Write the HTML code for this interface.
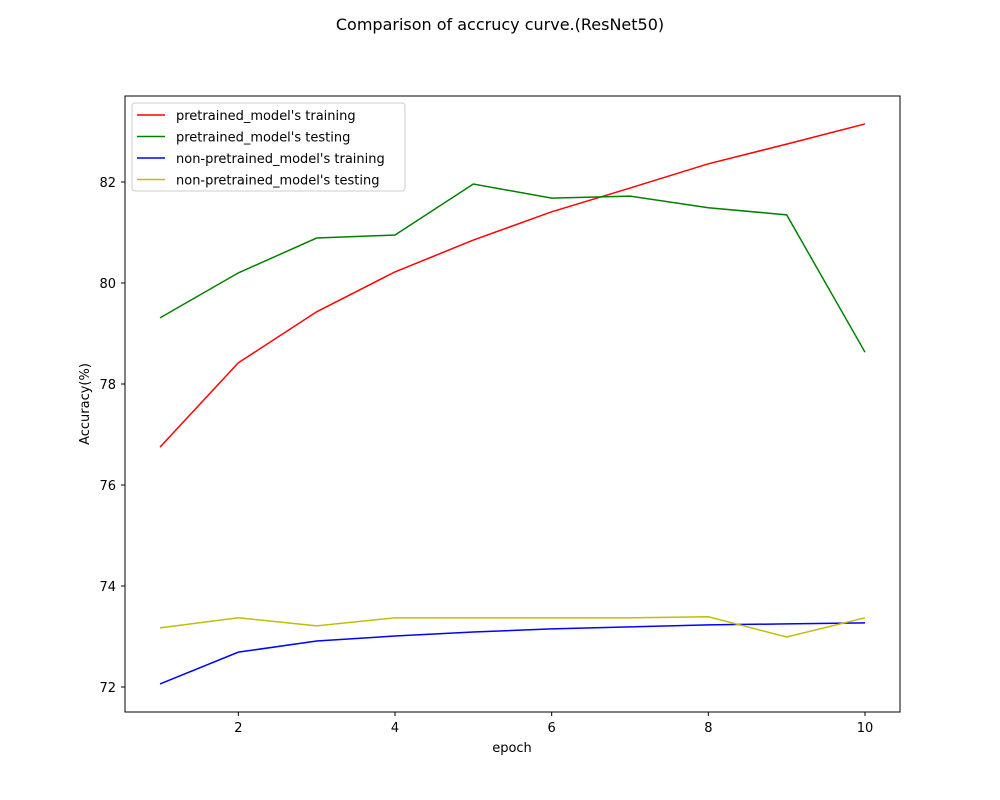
<!DOCTYPE html>
<html><head><meta charset="utf-8">
<style>
html,body{margin:0;padding:0;background:#fff;}
svg{display:block;font-family:"DejaVu Sans","Liberation Sans",sans-serif;}
</style></head>
<body>
<svg id="chart" width="1000" height="800">
<rect x="0" y="0" width="1000" height="800" fill="#fff"/>
<text x="500" y="30" font-size="16" text-anchor="middle">Comparison of accrucy curve.(ResNet50)</text>
<g id="marks"></g>
<g id="xticks"></g>
<g id="yticks"></g>
<rect x="125" y="96" width="775" height="616" fill="none" stroke="#000" stroke-width="1"/>
<text x="512" y="752" font-size="13" text-anchor="middle">epoch</text>
<text x="0" y="0" font-size="13" text-anchor="middle" transform="translate(89,404) rotate(-90)">Accuracy(%)</text>
<g id="legend"></g>
</svg>
<script>
const epochs = [1,2,3,4,5,6,7,8,9,10];
const preTrain = [76.75,78.42,79.43,80.22,80.85,81.41,81.88,82.36,82.75,83.15];
const preTest = [79.31,80.2,80.89,80.95,81.96,81.68,81.72,81.49,81.35,78.63];
const nonTrain = [72.06,72.69,72.91,73.01,73.09,73.15,73.19,73.23,73.25,73.27];
const nonTest = [73.17,73.37,73.21,73.37,73.37,73.37,73.37,73.39,72.99,73.37];
const xTickVals = [2,4,6,8,10];
const yTickVals = [72,74,76,78,80,82];
const seriesNames = ["pretrained_model's training","pretrained_model's testing","non-pretrained_model's training","non-pretrained_model's testing"];

const NS = "http://www.w3.org/2000/svg";
function xs(v){ return 160 + (v-1)*(865-160)/9; }
function ys(v){ return 687 - (v-72)*(687-182)/10; }
const colors = ["#ff0000","#008000","#0000ff","#bfbf00"];
const allSeries = [preTrain,preTest,nonTrain,nonTest];
const slugs = ["line-pretrained-training","line-pretrained-testing","line-nonpretrained-training","line-nonpretrained-testing"];

const marks = document.getElementById('marks');
allSeries.forEach((s,i)=>{
  const p = document.createElementNS(NS,'polyline');
  p.setAttribute('points', s.map((v,j)=>xs(epochs[j])+','+ys(v)).join(' '));
  p.setAttribute('fill','none');
  p.setAttribute('stroke',colors[i]);
  p.setAttribute('stroke-width','1.5');
  
  
  marks.appendChild(p);
});

const xt = document.getElementById('xticks');
xTickVals.forEach(v=>{
  const l = document.createElementNS(NS,'line');
  l.setAttribute('x1',xs(v)); l.setAttribute('x2',xs(v));
  l.setAttribute('y1',712); l.setAttribute('y2',716);
  l.setAttribute('stroke','#000');
  
  
  xt.appendChild(l);
  const t = document.createElementNS(NS,'text');
  t.setAttribute('x',xs(v)); t.setAttribute('y',732);
  t.setAttribute('font-size','13'); t.setAttribute('text-anchor','middle');
  t.textContent = v;
  
  
  xt.appendChild(t);
});
const yt = document.getElementById('yticks');
yTickVals.forEach(v=>{
  const l = document.createElementNS(NS,'line');
  l.setAttribute('x1',121); l.setAttribute('x2',125);
  l.setAttribute('y1',ys(v)); l.setAttribute('y2',ys(v));
  l.setAttribute('stroke','#000');
  
  
  yt.appendChild(l);
  const t = document.createElementNS(NS,'text');
  t.setAttribute('x',116); t.setAttribute('y',ys(v)+5);
  t.setAttribute('font-size','13'); t.setAttribute('text-anchor','end');
  t.textContent = v;
  
  
  yt.appendChild(t);
});

const lg = document.getElementById('legend');
const box = document.createElementNS(NS,'rect');
box.setAttribute('x',132); box.setAttribute('y',103);
box.setAttribute('width',273); box.setAttribute('height',88);
box.setAttribute('rx',3);
box.setAttribute('fill','#fff'); box.setAttribute('stroke','#ccc');


lg.appendChild(box);
seriesNames.forEach((n,i)=>{
  const y = 115 + i*21.5;
  const l = document.createElementNS(NS,'line');
  l.setAttribute('x1',137); l.setAttribute('x2',165);
  l.setAttribute('y1',y); l.setAttribute('y2',y);
  l.setAttribute('stroke',colors[i]); l.setAttribute('stroke-width','1.5');
  
  
  lg.appendChild(l);
  const t = document.createElementNS(NS,'text');
  t.setAttribute('x',176); t.setAttribute('y',y+5);
  t.setAttribute('font-size','13');
  t.textContent = n;
  
  
  lg.appendChild(t);
});
</script>
</body></html>
